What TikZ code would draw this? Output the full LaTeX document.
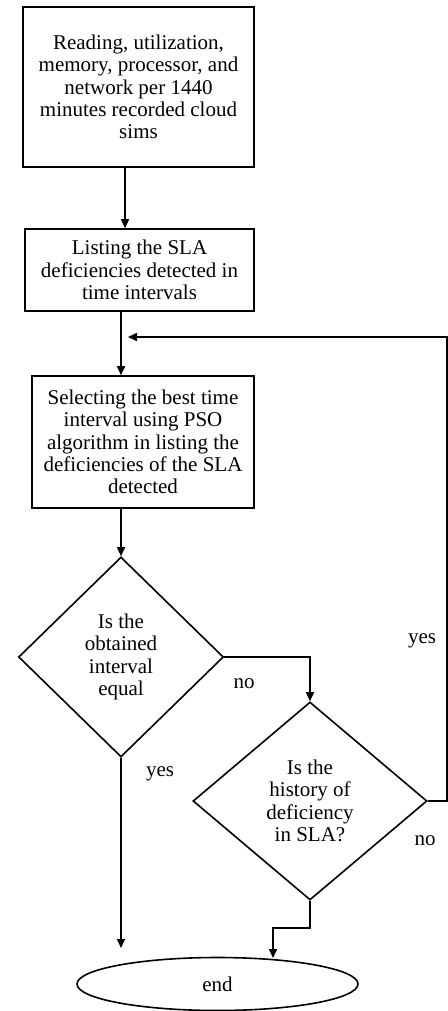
\documentclass[tikz,border=0pt]{standalone}
\usepackage{fontspec}
\setmainfont{Liberation Serif}
\usetikzlibrary{shapes.geometric,arrows.meta}
\tikzset{
  every node/.style={font=\fontsize{10.5pt}{11.2pt}\selectfont, inner sep=0pt},
  box/.style={draw, line width=0.8pt, align=center},
  decision/.style={draw, diamond, line width=0.8pt, align=center, aspect=1},
  terminal/.style={draw, ellipse, line width=0.8pt},
  conn/.style={line width=0.8pt},
  arr/.style={conn, -{Triangle[length=4.5pt,width=4pt]}},
  lbl/.style={anchor=center}
}
\begin{document}
\begin{tikzpicture}[x=0.5pt,y=-0.5pt]
\useasboundingbox (0,0) rectangle (448,1011);
% nodes
\node[box, minimum width=115.5pt, minimum height=80pt] (b1) at (138.5,87)
  {Reading, utilization,\\memory, processor, and\\network per 1440\\minutes recorded cloud\\sims};
\node[box, minimum width=114.5pt, minimum height=41pt] (b2) at (139.5,270)
  {Listing the SLA\\deficiencies detected in\\time intervals};
\node[box, minimum width=111pt, minimum height=66pt] (b3) at (143,442)
  {Selecting the best time\\interval using PSO\\algorithm in listing the\\deficiencies of the SLA\\detected};
\node[decision, minimum width=102.5pt, minimum height=100pt] (d1) at (121,657)
  {Is the\\obtained\\interval\\equal};
\node[decision, minimum width=117pt, minimum height=99pt] (d2) at (310,801)
  {Is the\\history of\\deficiency\\in SLA?};
\node[terminal, minimum width=140.5pt, minimum height=26.5pt] (end) at (217.5,984) {end};
% helper coordinates
\coordinate (a1) at (125,0);
\coordinate (join) at (121,337);
\coordinate (rt) at (447,337);
\coordinate (d1yes) at (121,948);
\coordinate (d2step) at (273,928);
\coordinate (endin) at (273,958);
% connectors
\draw[arr] (b1.south -| a1) -- (b2.north -| a1);
\draw[arr] (b2.south -| d1.north) -- (b3.north -| d1.north);
\draw[arr] (b3.south -| d1.north) -- (d1.north);
\draw[arr] (d1.east) -- (d1.east -| d2.north) -- (d2.north);
\draw[arr] (d2.east) -- (d2.east -| rt) -- (rt) -- ([xshift=3.5]join);
\draw[arr] (d1.south) -- (d1yes);
\draw[arr] (d2.south) -- (d2.south |- d2step) -- (d2step) -- (endin);
% labels
\node[lbl] (l1) at (244,684) {no};
\node[lbl] (l2) at (160,774) {yes};
\node[lbl] (l3) at (422,641) {yes};
\node[lbl] (l4) at (425,841) {no};
\end{tikzpicture}
\end{document}
